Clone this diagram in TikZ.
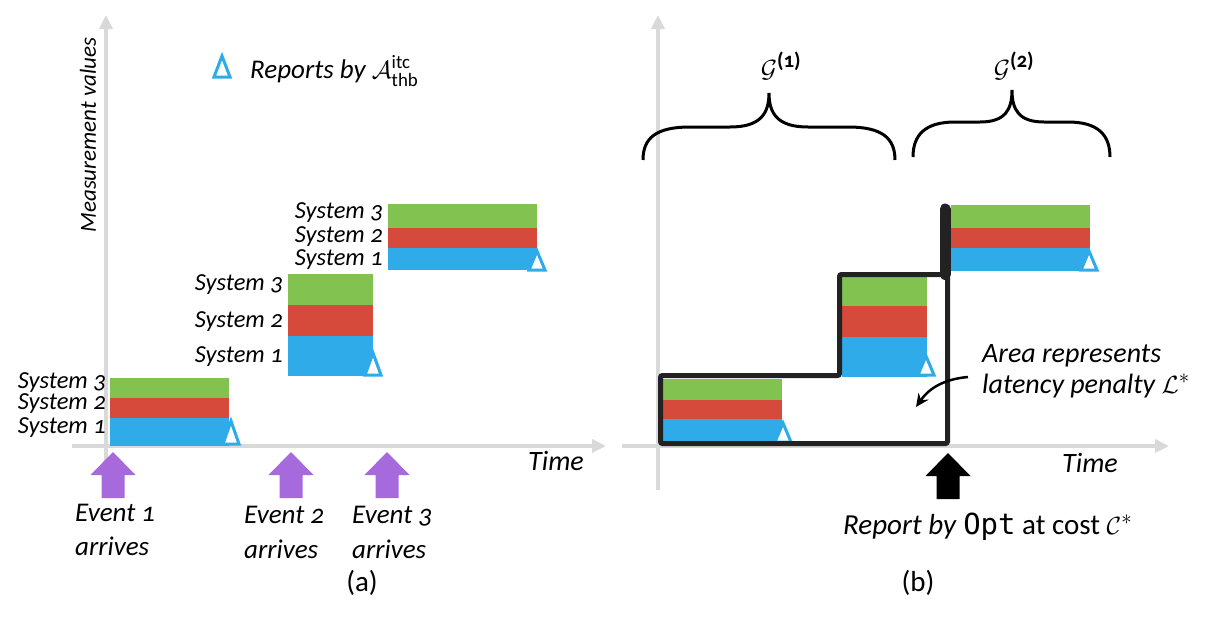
\documentclass[tikz,border=0pt]{standalone}
\usepackage{amsmath}
\usepackage{fontspec}
\setmainfont{Carlito}[Numbers=OldStyle]
\setmonofont{DejaVu Sans Mono}
\usetikzlibrary{arrows.meta}
\definecolor{cgreen}{HTML}{82C250}
\definecolor{cred}{HTML}{D64A3B}
\definecolor{cblue}{HTML}{2FABE9}
\definecolor{cpurple}{HTML}{A66ADD}
\definecolor{caxis}{HTML}{D9D9D9}
\definecolor{cblack}{HTML}{222222}
\newcommand\fsys{\fontsize{24.5}{28}\selectfont\itshape}
\newcommand\fevt{\fontsize{27}{32}\selectfont\itshape}
\newcommand\fbig{\fontsize{28}{32}\selectfont\itshape}
\newcommand\blockgrp[6]{%
  \fill[cgreen] (#1,#3) rectangle (#2,#4);
  \fill[cred] (#1,#4) rectangle (#2,#5);
  \fill[cblue] (#1,#5) rectangle (#2,#6);}
\newcommand\trimark[3]{%
  \draw[cblue, line width=3pt, fill=white, line join=miter] (#1-8,#3) -- (#1,#2) -- (#1+8,#3) -- cycle;}
\newcommand\blockarrow[3]{%
  \fill[#3] (#1,#2) -- ++(22.5,23) -- ++(-11,0) -- ++(0,23) -- ++(-23,0) -- ++(0,-23) -- ++(-11,0) -- cycle;}
\tikzset{
  axisline/.style={caxis, line width=4pt, -{Triangle[length=14pt,width=13pt]}},
  syslabel/.style={anchor=base east, inner sep=0pt, font=\fsys},
  evtlabel/.style={anchor=base west, inner sep=0pt, font=\fevt},
  plain/.style={inner sep=0pt},
}
\begin{document}
\begin{tikzpicture}[x=1pt, y=-1pt]
\useasboundingbox (0,0) rectangle (1219,624);
\fill[white] (0,0) rectangle (1219,624);

% ---------------- Panel (a) ----------------
\coordinate (ay0) at (106,462);
\coordinate (ay1) at (106,15);
\coordinate (ax0) at (72,446);
\coordinate (ax1) at (606,446);
\draw[axisline] (ay0) -- (ay1);
\draw[axisline] (ax0) -- (ax1);

\node[plain, rotate=90, font=\fontsize{23}{26}\selectfont\itshape] (mv) at (88,135) {Measurement values};
\trimark{222}{56}{77}
\node[plain, anchor=base west, font=\fontsize{27}{30}\selectfont\itshape] (leg) at (250,78) {Reports by $\mathcal{A}^{\text{\upshape itc}}_{\text{\upshape thb}}$};

\blockgrp{110}{229}{378}{398}{418}{446}
\trimark{231}{421}{444}
\node[syslabel] (a13) at (106,388) {System 3};
\node[syslabel] (a12) at (106,409) {System 2};
\node[syslabel] (a11) at (106,433) {System 1};

\blockgrp{288}{373}{274}{305}{336}{376}
\trimark{373}{353}{375}
\node[syslabel] (a23) at (283,290) {System 3};
\node[syslabel] (a22) at (283,327) {System 2};
\node[syslabel] (a21) at (283,362) {System 1};

\blockgrp{388}{537}{204}{228}{248}{270}
\trimark{537}{251}{270}
\node[syslabel] (a33) at (383,218) {System 3};
\node[syslabel] (a32) at (383,242) {System 2};
\node[syslabel] (a31) at (383,265) {System 1};

\blockarrow{113}{452}{cpurple}
\blockarrow{291}{452}{cpurple}
\blockarrow{387}{452}{cpurple}

\node[evtlabel] (e1a) at (75,521) {Event 1};
\node[evtlabel] (e1b) at (75,555) {arrives};
\node[evtlabel] (e2a) at (244,523) {Event 2};
\node[evtlabel] (e2b) at (244,558) {arrives};
\node[evtlabel] (e3a) at (352,523) {Event 3};
\node[evtlabel] (e3b) at (352,558) {arrives};

\node[plain, anchor=base west, font=\fbig] (ta) at (528,470) {Time};
\node[plain, font=\fontsize{29}{32}\selectfont] (la) at (362,583) {(a)};

% ---------------- Panel (b) ----------------
\coordinate (by0) at (658,490);
\coordinate (by1) at (658,15);
\coordinate (bx0) at (622,446);
\coordinate (bx1) at (1169,446);
\draw[axisline] (by0) -- (by1);
\draw[axisline] (bx0) -- (bx1);

\blockgrp{663}{782}{379}{400}{419}{443}
\trimark{783}{423}{442}
\blockgrp{842}{927}{277}{306}{337}{377}
\trimark{926}{356}{375}
\blockgrp{951}{1090}{205}{228}{248}{271}
\trimark{1089}{251}{270}

\coordinate (s0) at (660.5,443.5);
\coordinate (s1) at (660.5,375.5);
\coordinate (s2) at (839.5,375.5);
\coordinate (s3) at (839.5,274.5);
\coordinate (s4) at (947.5,274.5);
\coordinate (s5) at (947.5,443.5);
\coordinate (t0) at (945,209);
\draw[cblack, line width=5pt, rounded corners=2pt] (s0) -- (s1) -- (s2) -- (s3) -- (s4) -- (s5) -- cycle;
\draw[cblack, line width=11pt, line cap=round] (t0) -- (t0 |- s4);

\blockarrow{948}{453}{black}
\node[plain, anchor=base west, font=\fontsize{29}{32}\selectfont] (rep) at (843,534) {\itshape Report by \upshape\texttt{Opt} at cost $\mathcal{C}^*$};

\node[plain, anchor=base west, font=\fbig] (tb) at (1062,472) {Time};
\node[plain, font=\fontsize{29}{32}\selectfont] (lb) at (918,583) {(b)};

\node[plain, anchor=base west, font=\fbig] (ar1) at (982,362) {Area represents};
\node[plain, anchor=base west, font=\fbig] (ar2) at (982,393) {latency penalty $\mathcal{L}^*$};
\coordinate (c0) at (968,377);
\coordinate (c1) at (916,407);
\draw[black, line width=2.5pt, -{Stealth[length=13pt,width=12pt]}] (c0) to[out=185, in=55] (c1);

% braces
\coordinate (g1l) at (643,160);
\coordinate (g1t) at (769,93);
\coordinate (g1r) at (895,160);
\draw[black, line width=3pt] (g1l) .. controls (643,138) and (656,127) .. (690,127) -- (730,127)
  .. controls (760,127) and (769,114) .. (g1t)
  .. controls (769,114) and (778,127) .. (808,127) -- (848,127)
  .. controls (882,127) and (895,138) .. (g1r);
\coordinate (g2l) at (913,157);
\coordinate (g2t) at (1012,90);
\coordinate (g2r) at (1110,157);
\draw[black, line width=3pt] (g2l) .. controls (913,135) and (925,122) .. (955,122) -- (980,122)
  .. controls (1005,122) and (1012,110) .. (g2t)
  .. controls (1012,110) and (1019,122) .. (1044,122) -- (1068,122)
  .. controls (1098,122) and (1110,135) .. (g2r);
\node[plain, anchor=base, font=\fontsize{30}{34}\selectfont] (gl1) at (781,77) {$\mathcal{G}^{\text{\bfseries (1)}}$};
\node[plain, anchor=base, font=\fontsize{30}{34}\selectfont] (gl2) at (1014,77) {$\mathcal{G}^{\text{\bfseries (2)}}$};
\end{tikzpicture}
\end{document}
